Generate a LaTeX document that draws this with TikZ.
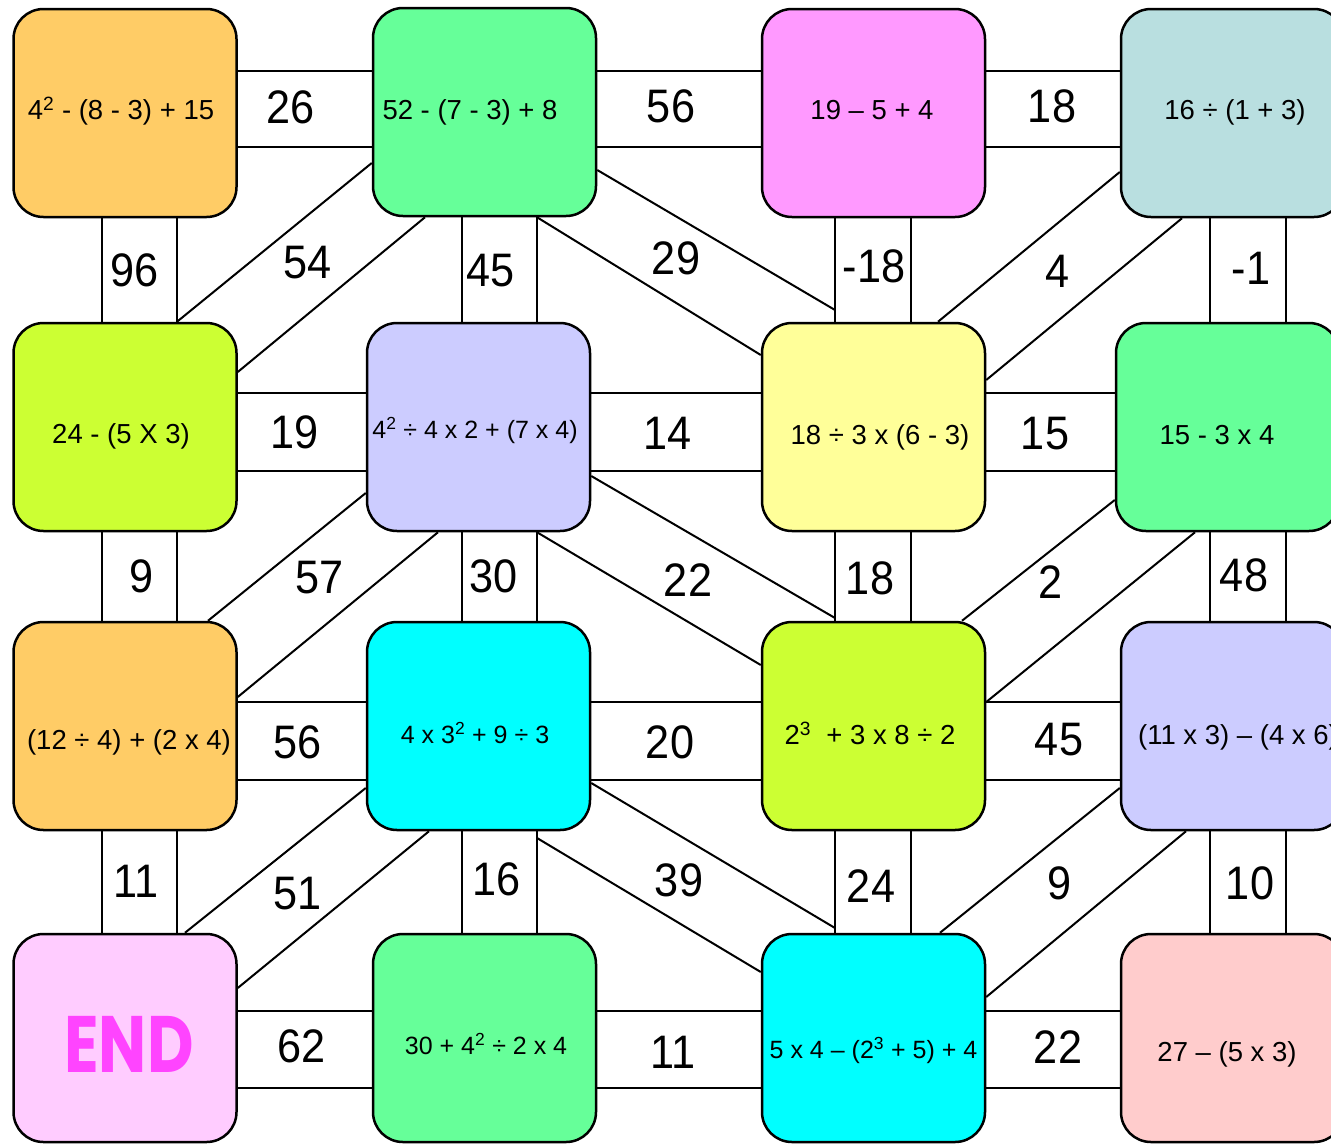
\documentclass[tikz,border=0pt]{standalone}
\usepackage{fontspec}
\setmainfont{Liberation Sans}
\newfontfamily\numfont[FakeStretch=0.92]{Liberation Sans}
\newfontfamily\endfont[FakeStretch=0.8]{Poppins}
\usepackage{tikz}
\usetikzlibrary{positioning,calc}
\definecolor{MZorange}{HTML}{FFCC66}
\definecolor{MZgreen}{HTML}{66FF99}
\definecolor{MZpink}{HTML}{FF99FF}
\definecolor{MZteal}{HTML}{B9DFE0}
\definecolor{MZlime}{HTML}{CCFF33}
\definecolor{MZlilac}{HTML}{CCCCFF}
\definecolor{MZyellow}{HTML}{FFFF99}
\definecolor{MZcyan}{HTML}{00FFFF}
\definecolor{MZrose}{HTML}{FFCCFF}
\definecolor{MZsalmon}{HTML}{FFCCCC}
\definecolor{MZmagenta}{HTML}{FF44FF}
\tikzset{
  cell/.style={rectangle, rounded corners=30pt, draw=black, line width=2.5pt, minimum width=223pt, minimum height=208pt, inner sep=0pt},
  celltext/.style={font=\fontsize{27.5}{30}\selectfont, text height=19.7pt, text depth=0pt, inner sep=0pt},
  celltextsmall/.style={celltext, font=\fontsize{25}{28}\selectfont, text height=17.9pt},
  numlabel/.style={font=\numfont\fontsize{47}{50}\selectfont, text height=33.6pt, text depth=0pt, inner sep=0pt},
  bridge/.style={line width=2pt, draw=black}
}

\begin{document}
\begin{tikzpicture}[x=1pt, y=-1pt]
\useasboundingbox (0,0) rectangle (1331,1144);
\clip (0,0) rectangle (1331,1144);
\node[cell, fill=MZorange, label={[celltext, xshift=-4pt, yshift=3pt]center:{4\textsuperscript{2} - (8 - 3) + 15}}] (r1c1) at (125,113) {};
\node[cell, fill=MZgreen, label={[celltext, xshift=-14.5pt, yshift=2pt]center:{52 - (7 - 3) + 8}}] (r1c2) at (484.5,112) {};
\node[cell, fill=MZpink, label={[celltext, xshift=-1.5pt, yshift=3pt]center:{19 – 5 + 4}}] (r1c3) at (873.5,113) {};
\node[cell, fill=MZteal, label={[celltext, xshift=2.5pt, yshift=3pt]center:{16 ÷ (1 + 3)}}] (r1c4) at (1232.5,113) {};
\node[cell, fill=MZlime, label={[celltext, xshift=-4pt, yshift=-7pt]center:{24 - (5 X 3)}}] (r2c1) at (125,427) {};
\node[cell, fill=MZlilac, label={[celltextsmall, xshift=-3.5pt, yshift=-3pt]center:{4\textsuperscript{2} ÷ 4 x 2 + (7 x 4)}}] (r2c2) at (478.5,427) {};
\node[cell, fill=MZyellow, label={[celltext, xshift=6.5pt, yshift=-8pt]center:{18 ÷ 3 x (6 - 3)}}] (r2c3) at (873.5,427) {};
\node[cell, fill=MZgreen, label={[celltext, xshift=-10.5pt, yshift=-8pt]center:{15 - 3 x 4}}] (r2c4) at (1227.5,427) {};
\node[cell, fill=MZorange, label={[celltext, xshift=4pt, yshift=-14pt]center:{(12 ÷ 4) + (2 x 4)}}] (r3c1) at (125,726) {};
\node[cell, fill=MZcyan, label={[celltextsmall, xshift=-3.5pt, yshift=-9pt]center:{4 x 3\textsuperscript{2} + 9 ÷ 3}}] (r3c2) at (478.5,726) {};
\node[cell, fill=MZlime, label={[celltext, xshift=-3.5pt, yshift=-9pt]center:{2\textsuperscript{3}~ + 3 x 8 ÷ 2}}] (r3c3) at (873.5,726) {};
\node[cell, fill=MZlilac, label={[celltext, xshift=5.5pt, yshift=-9pt]center:{(11 x 3) – (4 x 6)}}] (r3c4) at (1232.5,726) {};
\node[cell, fill=MZrose, label={[inner sep=0pt, text=MZmagenta, font=\endfont\bfseries\fontsize{80}{80}\selectfont, text height=56pt, text depth=0pt, xshift=4pt, yshift=-6pt]center:END}] (r4c1) at (125,1038) {};
\node[cell, fill=MZgreen, label={[celltextsmall, xshift=1.5pt, yshift=-8pt]center:{30 + 4\textsuperscript{2} ÷ 2 x 4}}] (r4c2) at (484.5,1038) {};
\node[cell, fill=MZcyan, label={[celltextsmall, xshift=0pt, yshift=-12pt]center:{5 x 4 – (2\textsuperscript{3} + 5) + 4}}] (r4c3) at (873.5,1038) {};
\node[cell, fill=MZsalmon, label={[celltext, xshift=-5.5pt, yshift=-14pt]center:{27 – (5 x 3)}}] (r4c4) at (1232.5,1038) {};
\coordinate (v1l) at (102,0);
\coordinate (v1r) at (177,0);
\coordinate (v2l) at (462,0);
\coordinate (v2r) at (537,0);
\coordinate (v3l) at (835,0);
\coordinate (v3r) at (911,0);
\coordinate (v4l) at (1210,0);
\coordinate (v4r) at (1286,0);
\coordinate (h1t) at (0,71);
\coordinate (h1b) at (0,147);
\coordinate (h2t) at (0,393);
\coordinate (h2b) at (0,471);
\coordinate (h3t) at (0,702);
\coordinate (h3b) at (0,780);
\coordinate (h4t) at (0,1011);
\coordinate (h4b) at (0,1088);
\foreach \row/\nxt in {1/2,2/3,3/4} {
  \foreach \col in {1,...,4} {
    \draw[bridge] (r\row c\col.south -| v\col l) -- (r\nxt c\col.north -| v\col l);
    \draw[bridge] (r\row c\col.south -| v\col r) -- (r\nxt c\col.north -| v\col r);
  }
}
\foreach \row in {1,...,4} {
  \foreach \col/\nxt in {1/2,2/3,3/4} {
    \draw[bridge] (r\row c\col.east |- h\row t) -- (r\row c\nxt.west |- h\row t);
    \draw[bridge] (r\row c\col.east |- h\row b) -- (r\row c\nxt.west |- h\row b);
  }
}
\draw[bridge] (r1c2.west |- 0,163) -- (r2c1.north -| v1r);
\draw[bridge] (r1c2.south -| 425,0) -- (r2c1.east |- 0,372);
\draw[bridge] (r1c2.east |- 0,170) -- (v3l |- 0,310);
\draw[bridge] (r1c2.south -| v2r) -- (r2c3.west |- 0,355);
\draw[bridge] (r1c4.west |- 0,172) -- (r2c3.north -| 938,0);
\draw[bridge] (r1c4.south -| 1182,0) -- (r2c3.east |- 0,380);
\draw[bridge] (r2c2.west |- 0,493) -- (r3c1.north -| 208,0);
\draw[bridge] (r2c2.south -| 438,0) -- (r3c1.east |- 0,697);
\draw[bridge] (r2c2.east |- 0,476) -- (v3l |- 0,618);
\draw[bridge] (r2c2.south -| v2r) -- (r3c3.west |- 0,665);
\draw[bridge] (r2c4.west |- 0,500) -- (r3c3.north -| 962,0);
\draw[bridge] (r2c4.south -| 1195,0) -- (r3c3.east |- 0,702);
\draw[bridge] (r3c2.west |- 0,788) -- (r4c1.north -| 185,0);
\draw[bridge] (r3c2.south -| 429,0) -- (r4c1.east |- 0,988);
\draw[bridge] (r3c2.east |- 0,783) -- (v3l |- 0,928);
\draw[bridge] (v2r |- 0,838) -- (r4c3.west |- 0,972);
\draw[bridge] (r3c4.west |- 0,788) -- (r4c3.north -| 940,0);
\draw[bridge] (r3c4.south -| 1186,0) -- (r4c3.east |- 0,997);
\node[numlabel] (h11) at (291,107) {26};
\node[numlabel] (h12) at (671,106) {56};
\node[numlabel] (h13) at (1052,106) {18};
\node[numlabel] (h21) at (295,432) {19};
\node[numlabel] (h22) at (668,433) {14};
\node[numlabel] (h23) at (1045,433) {15};
\node[numlabel] (h31) at (298,742) {56};
\node[numlabel] (h32) at (670,742) {20};
\node[numlabel] (h33) at (1059,739) {45};
\node[numlabel] (h41) at (302,1046) {62};
\node[numlabel] (h42) at (673,1052) {11};
\node[numlabel] (h43) at (1058,1047) {22};
\node[numlabel] (v11) at (135,270) {96};
\node[numlabel] (v12) at (491,270) {45};
\node[numlabel] (v13) at (874,266) {-18};
\node[numlabel] (v14) at (1251,268) {-1};
\node[numlabel] (v21) at (142,576) {9};
\node[numlabel] (v22) at (494,576) {30};
\node[numlabel] (v23) at (870,578) {18};
\node[numlabel] (v24) at (1244,575) {48};
\node[numlabel] (v31) at (136,881) {11};
\node[numlabel] (v32) at (497,879) {16};
\node[numlabel] (v33) at (871,886) {24};
\node[numlabel] (v34) at (1250,883) {10};
\node[numlabel] (d11) at (308,262) {54};
\node[numlabel] (d12) at (676,258) {29};
\node[numlabel] (d13) at (1058,271) {4};
\node[numlabel] (d21) at (320,577) {57};
\node[numlabel] (d22) at (688,580) {22};
\node[numlabel] (d23) at (1051,582) {2};
\node[numlabel] (d31) at (298,893) {51};
\node[numlabel] (d32) at (679,880) {39};
\node[numlabel] (d33) at (1060,883) {9};
\end{tikzpicture}
\end{document}
